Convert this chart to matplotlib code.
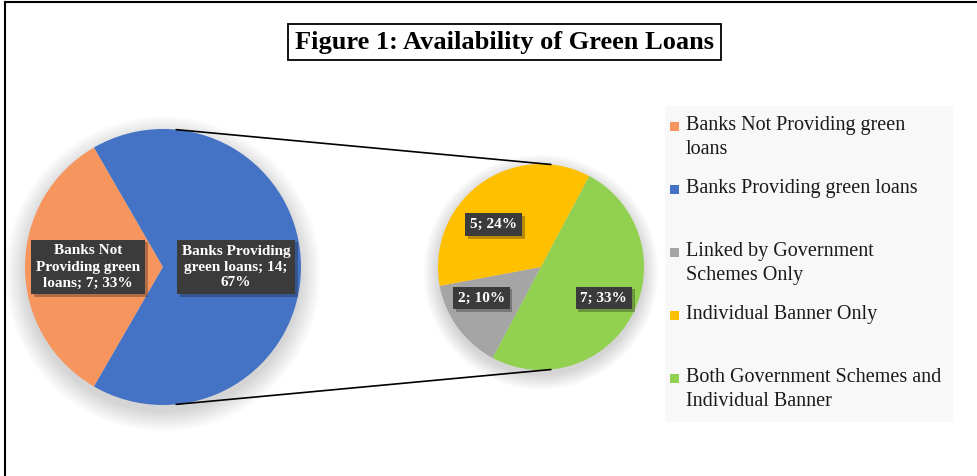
import numpy as np
import matplotlib
matplotlib.use("Agg")
import matplotlib.pyplot as plt
from matplotlib.patches import Circle, Rectangle, ConnectionPatch
from matplotlib.lines import Line2D
import matplotlib.patheffects as pe

# data
main_labels = ["Banks Not Providing green loans", "Banks Providing green loans"]
main_values = [7, 14]
main_colors = ["#F7955F", "#4472C4"]

sub_labels = ["Linked by Government Schemes Only", "Individual Banner Only",
              "Both Government Schemes and Individual Banner"]
sub_values = [2, 5, 7]
sub_colors = ["#A5A5A5", "#FFC000", "#92D050"]

legend_text = ["Banks Not Providing green\nloans", "Banks Providing green loans",
               "Linked by Government\nSchemes Only", "Individual Banner Only",
               "Both Government Schemes and\nIndividual Banner"]
legend_colors = main_colors + sub_colors

total = sum(main_values)
W, H = 978, 476
serif = ["Liberation Serif", "DejaVu Serif"]

fig = plt.figure(figsize=(W / 100, H / 100), dpi=100)


def px_axes(cx, cy, r):
    # square axes around a pie centre given in pixels (y from top)
    return fig.add_axes([(cx - r) / W, (H - cy - r) / H, 2 * r / W, 2 * r / H])


def shadow(ax):
    # soft glow, a bit heavier below the pie
    for k in range(14):
        ax.add_patch(Circle((0, -0.05), 1.0 + k * 0.011, color="black",
                            alpha=0.012, lw=0, zorder=0, clip_on=False))


box = dict(boxstyle="square,pad=0.32", fc="#3b3b3b", ec="none")


def label(ax, x, y, s):
    t = ax.text(x, y, s, ha="center", va="center", color="white", fontsize=11,
                fontweight="bold", family=serif, linespacing=1.3, bbox=box, zorder=5)
    t.get_bbox_patch().set_path_effects(
        [pe.SimplePatchShadow(offset=(2, -2), alpha=0.3), pe.Normal()])


# main pie
ax1 = px_axes(163, 267, 138 * 1.15)
shadow(ax1)
ax1.pie(main_values, colors=main_colors, startangle=120, counterclock=True,
        radius=1, wedgeprops=dict(linewidth=0, zorder=2))
ax1.set_xlim(-1.15, 1.15)
ax1.set_ylim(-1.15, 1.15)
ax1.axis("off")
label(ax1, -0.545, 0, "Banks Not\nProviding green\nloans; %d; %d%%" %
      (main_values[0], round(100 * main_values[0] / total)))
label(ax1, 0.53, 0, "Banks Providing\ngreen loans; %d;\n%d%%" %
      (main_values[1], round(100 * main_values[1] / total)))

# secondary pie
r2 = 103
ax2 = px_axes(541, 267, r2 * 1.15)
shadow(ax2)
ax2.pie(sub_values, colors=sub_colors, startangle=242, counterclock=False,
        radius=1, wedgeprops=dict(linewidth=0, zorder=2))
ax2.set_xlim(-1.15, 1.15)
ax2.set_ylim(-1.15, 1.15)
ax2.axis("off")
sub_pos = [(-0.58, -0.30), (-0.46, 0.41), (0.61, -0.30)]
for (x, y), v in zip(sub_pos, sub_values):
    label(ax2, x, y, "%d; %d%%" % (v, round(100 * v / total)))

# connector lines
a = np.deg2rad(84.5)
for s in (1, -1):
    con = ConnectionPatch(xyA=(np.cos(a), s * np.sin(a)), coordsA=ax1.transData,
                          xyB=(np.cos(a), s * np.sin(a)), coordsB=ax2.transData,
                          color="black", lw=1.2, zorder=1)
    fig.add_artist(con)

# title
fig.text(504.5 / W, 1 - 42 / H, "Figure 1: Availability of Green Loans",
         ha="center", va="center", fontsize=19, fontweight="bold", family=serif,
         bbox=dict(boxstyle="square,pad=0.25", fc="white", ec="black", lw=1.3))

# legend panel
fig.add_artist(Rectangle((665 / W, 1 - 422 / H), 288 / W, 316 / H,
                         transform=fig.transFigure, fc="#f8f8f8", ec="none", zorder=0))
for i, (txt, c) in enumerate(zip(legend_text, legend_colors)):
    ytop = 116 + i * 63
    fig.add_artist(Rectangle((670 / W, 1 - (ytop + 15) / H), 9 / W, 9 / H,
                             transform=fig.transFigure, fc=c, ec="none"))
    fig.text(686 / W, 1 - ytop / H, txt, ha="left", va="top", fontsize=14.5,
             family=serif, color="#1a1a1a", linespacing=1.38)

# outer frame
fig.add_artist(Line2D([5 / W, 1], [1 - 2 / H, 1 - 2 / H], transform=fig.transFigure,
                      color="black", lw=1.5))
fig.add_artist(Line2D([5 / W, 5 / W], [0, 1 - 2 / H], transform=fig.transFigure,
                      color="black", lw=1.5))

fig.savefig("out.png", dpi=100)
